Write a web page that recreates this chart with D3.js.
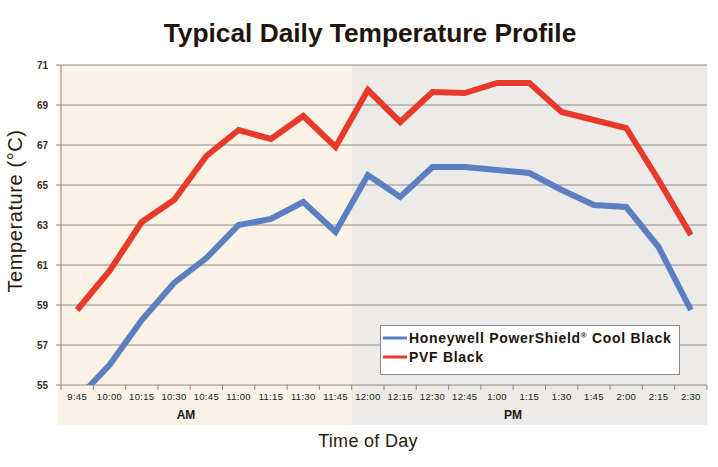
<!DOCTYPE html>
<html><head><meta charset="utf-8">
<script src="https://cdn.jsdelivr.net/npm/d3@7"></script>
<style>html,body{margin:0;padding:0;background:#fff;}svg{display:block;font-family:"Liberation Sans",Arial,sans-serif;}</style>
</head><body>
<svg id="c" width="718" height="467"></svg>
<script>
const times = ["9:45","10:00","10:15","10:30","10:45","11:00","11:15","11:30","11:45","12:00","12:15","12:30","12:45","1:00","1:15","1:30","1:45","2:00","2:15","2:30"];
const periods = ["AM","PM"];
const honeywell = [54.3,56.0,58.25,60.1,61.35,63.0,63.3,64.15,62.65,65.5,64.4,65.9,65.9,65.75,65.6,64.75,64.0,63.9,61.9,58.75];
const pvf = [58.75,60.7,63.15,64.25,66.45,67.75,67.3,68.45,66.9,69.75,68.15,69.65,69.6,70.1,70.1,68.65,68.25,67.85,65.25,62.5];
const yTicks = [55,57,59,61,63,65,67,69,71];
const seriesNames = ["Honeywell PowerShield® Cool Black","PVF Black"];
const colors = ["#5b7fc1","#e83a2a"];

const svg = d3.select("#c");
const L=61,R=707,T=65,B=385;
const x = d3.scaleBand().domain(times).range([L,R]);
const y = d3.scaleLinear().domain([55,71]).range([B,T]);

// shaded regions
const split = x("12:00");
svg.append("rect").attr("x",58).attr("y",T).attr("width",split-58).attr("height",425-T).attr("fill","#fbf2e6");
svg.append("rect").attr("x",split).attr("y",T).attr("width",R-split).attr("height",425-T).attr("fill","#edebea");

// gridlines
svg.append("g").selectAll("line").data(yTicks).join("line")
  .attr("x1",L-5).attr("x2",R).attr("y1",d=>y(d)).attr("y2",d=>y(d))
  .attr("stroke","#8c8886").attr("stroke-width",1);
svg.append("line").attr("x1",L).attr("x2",L).attr("y1",T).attr("y2",B).attr("stroke","#8c8886");

// y tick labels
svg.append("g").selectAll("text").data(yTicks).join("text")
  .attr("x",48).attr("y",d=>y(d)+3.5).attr("text-anchor","end")
  .attr("font-size",10).attr("font-weight","bold").attr("fill","#3b2a1e").text(d=>d);

// x ticks
const xb = d3.range(times.length+1).map(i=>L+i*x.step());
svg.append("g").selectAll("line").data(xb).join("line")
  .attr("x1",d=>d).attr("x2",d=>d).attr("y1",B).attr("y2",B+5).attr("stroke","#8c8886");
svg.append("g").selectAll("text").data(times).join("text")
  .attr("x",d=>x(d)+x.bandwidth()/2).attr("y",400).attr("text-anchor","middle")
  .attr("font-size",9.5).attr("fill","#1a1a1a").attr("letter-spacing",0.3).text(d=>d);
svg.append("g").selectAll("text").data(periods).join("text")
  .attr("x",(d,i)=>i===0?186:513).attr("y",419).attr("text-anchor","middle")
  .attr("font-size",12).attr("font-weight","bold").attr("fill","#1a1a1a").text(d=>d);

// lines
svg.append("clipPath").attr("id","clip").append("rect").attr("x",L).attr("y",T-10).attr("width",R-L).attr("height",B-T+10);
const line = d3.line().x((d,i)=>x(times[i])+x.bandwidth()/2).y(d=>y(d)).curve(d3.curveLinear);
const g = svg.append("g").attr("clip-path","url(#clip)");
[honeywell,pvf].forEach((s,k)=>{
  g.append("path").datum(s).attr("d",line).attr("fill","none").attr("stroke",colors[k])
   .attr("stroke-width",6).attr("stroke-linejoin","miter").attr("stroke-linecap","butt");
});

// legend
const lg = svg.append("g");
lg.append("rect").attr("x",380.5).attr("y",325.5).attr("width",299).attr("height",49).attr("fill","#fff").attr("stroke","#8c8886");
seriesNames.forEach((n,i)=>{
  const yy = 338+i*19;
  lg.append("line").attr("x1",383).attr("x2",407).attr("y1",yy).attr("y2",yy).attr("stroke",colors[i]).attr("stroke-width",3);
  const t = lg.append("text").attr("x",409).attr("y",yy+5).attr("font-size",14).attr("font-weight","bold")
    .attr("letter-spacing",0.7).attr("fill","#1e140c");
  if(n.includes("®")){
    const parts=n.split("®");
    t.append("tspan").text(parts[0]);
    t.append("tspan").attr("font-size",8).attr("dy",-5).text("®");
    t.append("tspan").attr("dy",5).text(parts[1]);
  } else t.text(n);
});

// titles
svg.append("text").attr("x",370).attr("y",42).attr("text-anchor","middle").attr("font-size",26.3).attr("font-weight","bold").attr("fill","#23140b").text("Typical Daily Temperature Profile");
svg.append("text").attr("transform","translate(22,211) rotate(-90)").attr("text-anchor","middle").attr("font-size",20).attr("letter-spacing",0.6).attr("fill","#2a1a10").text("Temperature (°C)");
svg.append("text").attr("x",368).attr("y",447).attr("text-anchor","middle").attr("font-size",18).attr("letter-spacing",0.3).attr("fill","#2a1a10").text("Time of Day");
</script>
</body></html>
